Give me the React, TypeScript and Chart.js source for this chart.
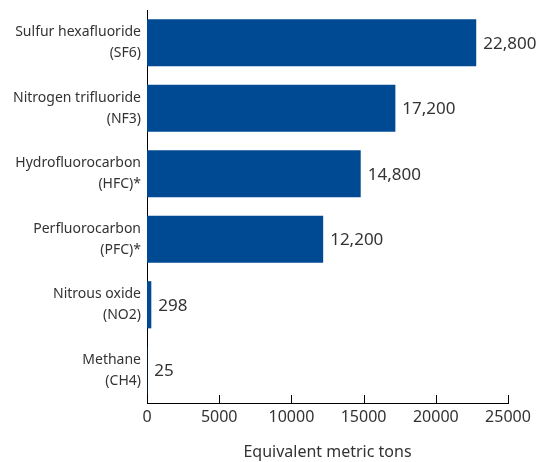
import React, { useEffect, useRef } from "react";
import { Chart, registerables } from "chart.js";

Chart.register(...registerables);

const categories: string[][] = [
  ["Sulfur hexafluoride", "(SF6)"],
  ["Nitrogen trifluoride", "(NF3)"],
  ["Hydrofluorocarbon", "(HFC)*"],
  ["Perfluorocarbon", "(PFC)*"],
  ["Nitrous oxide", "(NO2)"],
  ["Methane", "(CH4)"],
];
const values: number[] = [22800, 17200, 14800, 12200, 298, 25];
const valueLabels: string[] = ["22,800", "17,200", "14,800", "12,200", "298", "25"];
const xTicks: number[] = [0, 5000, 10000, 15000, 20000, 25000];
const axisTitle = "Equivalent metric tons";

const FONT = "'Noto Sans', sans-serif";
const TEXT = "#333333";
const BAR = "#004a94";

const extrasPlugin = {
  id: "extras",
  afterDatasetsDraw(chart: any) {
    const ctx = chart.ctx;
    const xs = chart.scales.x;
    const area = chart.chartArea;
    ctx.save();
    ctx.strokeStyle = "#000";
    ctx.lineWidth = 1;
    xTicks.forEach((t) => {
      const px = Math.round(xs.getPixelForValue(t)) + 0.5;
      ctx.beginPath();
      ctx.moveTo(px, area.bottom);
      ctx.lineTo(px, area.bottom - 8);
      ctx.stroke();
    });
    const meta = chart.getDatasetMeta(0);
    ctx.fillStyle = TEXT;
    ctx.font = `17px ${FONT}`;
    ctx.textAlign = "left";
    ctx.textBaseline = "middle";
    meta.data.forEach((bar: any, i: number) => {
      ctx.fillText(valueLabels[i], bar.x + 7, bar.y + 1);
    });
    ctx.restore();
  },
};

export default function App() {
  const ref = useRef<HTMLCanvasElement>(null);
  useEffect(() => {
    document.body.style.margin = "0";
    const chart = new Chart(ref.current!, {
      type: "bar",
      data: {
        labels: categories,
        datasets: [
          {
            data: values,
            backgroundColor: BAR,
            barPercentage: 0.72,
            categoryPercentage: 1,
          },
        ],
      },
      options: {
        indexAxis: "y",
        animation: false,
        responsive: false,
        layout: { padding: { top: 10, right: 30, bottom: 0, left: 0 } },
        plugins: { legend: { display: false }, tooltip: { enabled: false } },
        scales: {
          x: {
            min: 0,
            max: 25000,
            afterBuildTicks: (scale: any) => {
              scale.ticks = xTicks.map((v) => ({ value: v }));
            },
            grid: { display: false, drawTicks: false },
            border: { display: true, color: "#000", width: 1 },
            ticks: {
              color: TEXT,
              font: { family: FONT, size: 16 },
              padding: 5,
              maxRotation: 0,
              callback: (v: any) => String(v),
            },
            title: {
              display: true,
              text: axisTitle,
              color: TEXT,
              font: { family: FONT, size: 16 },
              padding: { top: 11, bottom: 0 },
            },
            afterFit: (scale: any) => {
              scale.height = 59;
            },
          },
          y: {
            grid: { display: false, drawTicks: false },
            border: { display: true, color: "#000", width: 1 },
            ticks: {
              color: TEXT,
              font: { family: FONT, size: 14, lineHeight: 1.5 },
              padding: 6,
            },
            afterFit: (scale: any) => {
              scale.width = 147;
              scale.paddingTop = 0;
              scale.paddingBottom = 0;
            },
          },
        },
      },
      plugins: [extrasPlugin],
    });
    return () => chart.destroy();
  }, []);
  return (
    <div style={{ width: 538, height: 462 }}>
      <canvas ref={ref} width={538} height={462} style={{ display: "block" }} />
    </div>
  );
}
